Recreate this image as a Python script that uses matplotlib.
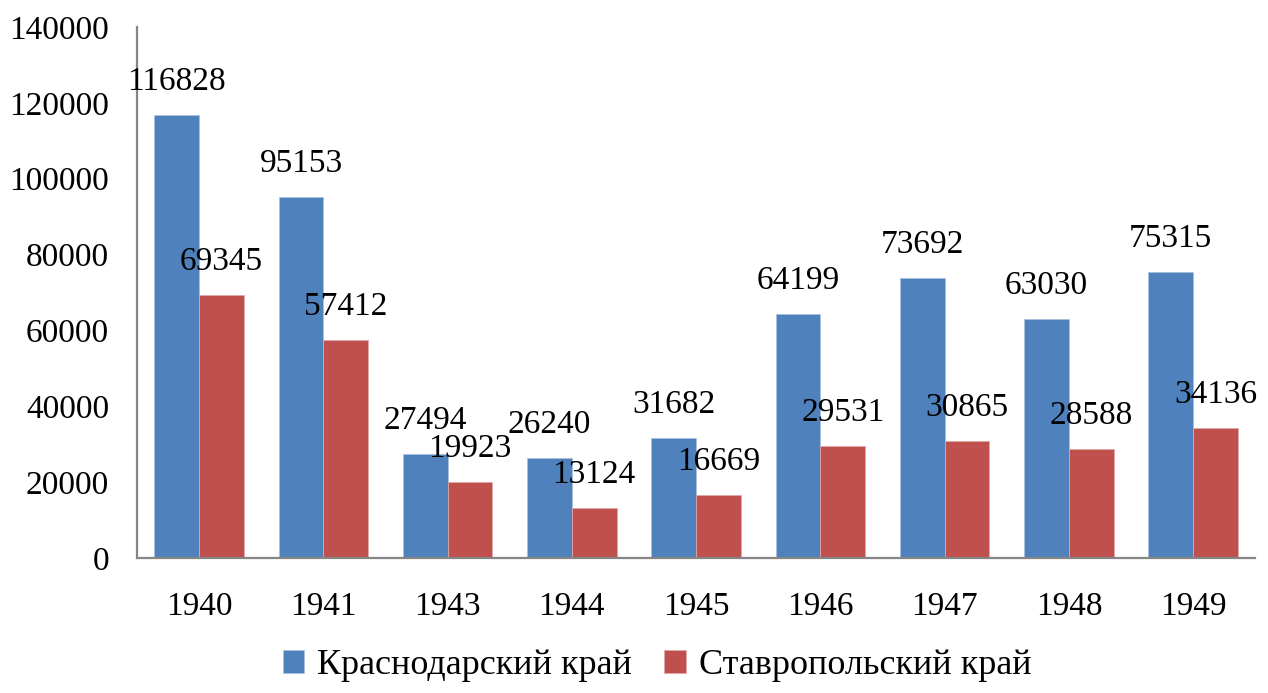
import matplotlib.pyplot as plt
import numpy as np

plt.rcParams["font.family"] = ["Liberation Serif", "DejaVu Serif"]

years = ["1940", "1941", "1943", "1944", "1945", "1946", "1947", "1948", "1949"]
krasnodar = [116828, 95153, 27494, 26240, 31682, 64199, 73692, 63030, 75315]
stavropol = [69345, 57412, 19923, 13124, 16669, 29531, 30865, 28588, 34136]

fig = plt.figure(figsize=(12.68, 6.93), dpi=100)
ax = fig.add_axes([0.108, 0.195, 0.882, 0.766])

x = np.arange(len(years))
w = 0.36
b1 = ax.bar(x - w / 2, krasnodar, w, color="#4F81BD", edgecolor="#A7C0DE",
            linewidth=0.6, label="Краснодарский край")
b2 = ax.bar(x + w / 2, stavropol, w, color="#C0504D", edgecolor="#E0A8A6",
            linewidth=0.6, label="Ставропольский край")

for bars, vals in ((b1, krasnodar), (b2, stavropol)):
    for rect, v in zip(bars, vals):
        ax.annotate(str(v), (rect.get_x() + rect.get_width() / 2, v),
                    xytext=(0, 13), textcoords="offset points",
                    ha="center", va="bottom", fontsize=24)

ax.set_xlim(-0.5, len(years) - 0.5)
ax.set_ylim(0, 140000)
ax.set_yticks(range(0, 140001, 20000))
ax.set_xticks(x)
ax.set_xticklabels(years)
ax.tick_params(axis="both", length=0, labelsize=24)
ax.tick_params(axis="x", pad=24)
ax.tick_params(axis="y", pad=20)

for s in ("top", "right"):
    ax.spines[s].set_visible(False)
for s in ("left", "bottom"):
    ax.spines[s].set_color("#868686")
    ax.spines[s].set_linewidth(1.6)

fig.legend(handles=[b1, b2], loc="center", bbox_to_anchor=(0.518, 0.04),
           ncol=2, frameon=False, fontsize=26, handlelength=0.6,
           handleheight=0.6, handletextpad=0.35, columnspacing=0.9)

fig.savefig("out.png", dpi=100)
